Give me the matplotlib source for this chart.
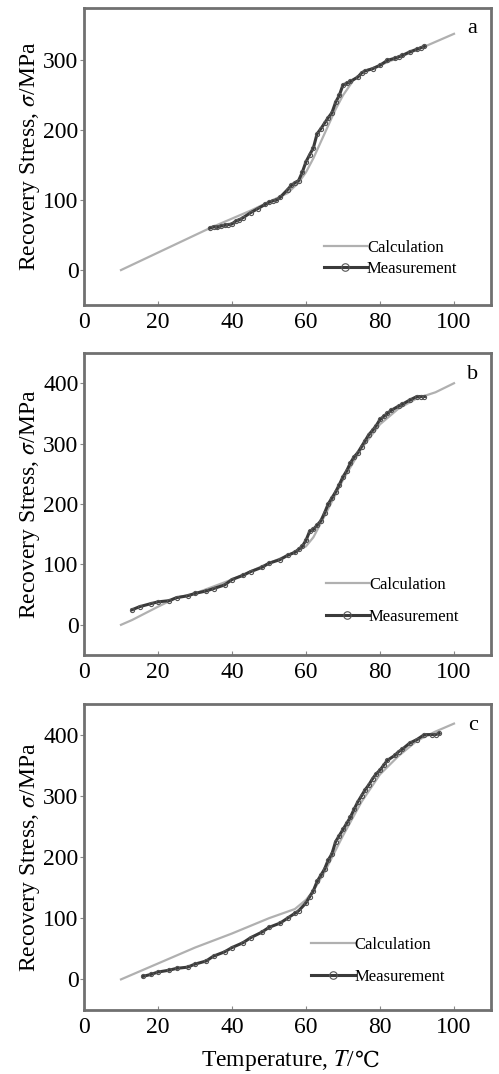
import matplotlib
matplotlib.use("Agg")
import matplotlib.pyplot as plt

plt.rcParams['font.family'] = ['Liberation Serif', 'DejaVu Serif']
plt.rcParams['mathtext.fontset'] = 'stix'

# ---- Panel a ----
calc_a_T = [10, 20, 34, 45, 55, 58, 60, 62, 65, 68, 70, 73, 76, 80, 90, 100]
calc_a_S = [0, 25, 60, 85, 110, 125, 140, 160, 195, 230, 250, 273, 285, 293, 315, 338]
meas_a_T = [34, 35, 36, 37, 38, 39, 40, 41, 42, 43, 45, 47, 49, 50, 51, 52, 53, 55, 56, 57, 58, 59, 60, 61,
            62, 63, 64, 65, 66, 67, 68, 69, 70, 71, 72, 74, 75, 76, 78, 80, 82, 84, 85, 86, 88, 90, 91, 92]
meas_a_S = [60, 62, 61, 63, 64, 65, 66, 70, 72, 75, 82, 88, 94, 97, 99, 100, 104, 115, 121, 125, 128, 140, 155, 165,
            175, 195, 202, 210, 218, 225, 240, 250, 265, 267, 270, 276, 282, 285, 288, 293, 300, 303, 305, 307, 312, 316, 318, 320]

# ---- Panel b ----
calc_b_T = [10, 13, 20, 25, 30, 40, 50, 55, 60, 62, 65, 70, 75, 80, 85, 90, 95, 100]
calc_b_S = [0, 8, 30, 45, 52, 75, 102, 115, 130, 145, 180, 240, 292, 332, 358, 375, 385, 400]
meas_b_T = [13, 15, 18, 20, 23, 25, 28, 30, 33, 35, 38, 40, 43, 45, 48, 50, 53, 55, 57, 58, 59, 60, 61, 62, 63, 64,
            65, 66, 67, 68, 69, 70, 71, 72, 73, 74, 75, 76, 77, 78, 79, 80, 81, 82, 83, 85, 86, 88, 90, 91, 92]
meas_b_S = [25, 30, 35, 38, 40, 45, 48, 52, 56, 60, 66, 75, 82, 88, 95, 102, 108, 115, 120, 125, 130, 140, 155, 158, 165, 172,
            185, 200, 210, 220, 232, 245, 255, 268, 278, 285, 295, 305, 315, 322, 330, 340, 345, 350, 355, 362, 365, 372, 378, 378, 378]

# ---- Panel c ----
calc_c_T = [10, 20, 30, 40, 50, 57, 60, 62, 65, 70, 75, 80, 85, 90, 95, 100]
calc_c_S = [0, 26, 52, 75, 100, 115, 130, 145, 175, 235, 290, 335, 365, 390, 405, 418]
meas_c_T = [16, 18, 20, 23, 25, 28, 30, 33, 35, 38, 40, 43, 45, 48, 50, 53, 55, 57, 58, 60, 61, 62, 63, 64, 65, 66,
            67, 68, 69, 70, 71, 72, 73, 74, 75, 76, 77, 78, 79, 80, 81, 82, 84, 85, 86, 88, 90, 92, 94, 95, 96]
meas_c_S = [5, 8, 12, 15, 18, 20, 25, 30, 38, 45, 52, 60, 68, 77, 85, 92, 100, 108, 112, 125, 135, 145, 160, 170, 180, 195,
            205, 225, 235, 245, 255, 265, 278, 290, 300, 310, 318, 328, 336, 342, 350, 358, 366, 372, 376, 386, 392, 400, 400, 400, 402]

panels = [
    ("a", calc_a_T, calc_a_S, meas_a_T, meas_a_S, (-50, 375), [0, 100, 200, 300]),
    ("b", calc_b_T, calc_b_S, meas_b_T, meas_b_S, (-50, 450), [0, 100, 200, 300, 400]),
    ("c", calc_c_T, calc_c_S, meas_c_T, meas_c_S, (-50, 450), [0, 100, 200, 300, 400]),
]

fig = plt.figure(figsize=(4.99, 10.74), dpi=100)
boxes = [(0.9926, 0.716), (0.6713, 0.3901), (0.3445, 0.0596)]
legend_pos = [(0.56, 0.055), (0.565, 0.062), (0.53, 0.045)]
legend_sp = [0.3, 0.95, 0.95]
xl, xr = 84 / 499, 491 / 499

for (lab, cT, cS, mT, mS, ylim, yt), (top, bot), lp, sp in zip(panels, boxes, legend_pos, legend_sp):
    ax = fig.add_axes([xl, bot, xr - xl, top - bot])
    ax.plot(cT, cS, color='#b0b0b0', lw=1.6, label='Calculation', zorder=2)
    ax.plot(mT, mS, color='#3a3a3a', lw=2.2, marker='o', ms=3.0, mfc='none', mec='#555555', mew=0.8,
            label='Measurement', zorder=3)
    ax.set_xlim(0, 110)
    ax.set_ylim(*ylim)
    ax.set_xticks([0, 20, 40, 60, 80, 100])
    ax.set_yticks(yt)
    ax.tick_params(axis='x', direction='in', length=3, width=0.8, color='#888888', labelsize=17, pad=5)
    ax.tick_params(axis='y', direction='out', length=3, width=0.8, color='#888888', labelsize=17, pad=1)
    for s in ax.spines.values():
        s.set_color('#707070')
        s.set_linewidth(2.0)
    ax.set_ylabel(r'Recovery Stress, $\sigma$/MPa', fontsize=17, labelpad=1)
    ax.text(0.955, 0.93, lab, transform=ax.transAxes, fontsize=16, ha='center', va='center')
    leg = ax.legend(loc='lower left', bbox_to_anchor=lp, frameon=False, fontsize=12, handlelength=2.6,
                    handletextpad=0.0, labelspacing=sp, borderpad=0.2, numpoints=1, markerscale=1.8)
    if lab == 'c':
        t1 = ax.text(0.666, -0.165, r'Temperature, $T$/', transform=ax.transAxes, fontsize=17,
                     ha='right', va='center')
        ax.annotate('℃', xy=(1, 0.5), xycoords=t1, xytext=(0, 0), textcoords='offset points',
                    ha='left', va='center', fontsize=16, family=['DejaVu Serif', 'Noto Sans CJK SC'])

fig.savefig('out.png', dpi=100)
